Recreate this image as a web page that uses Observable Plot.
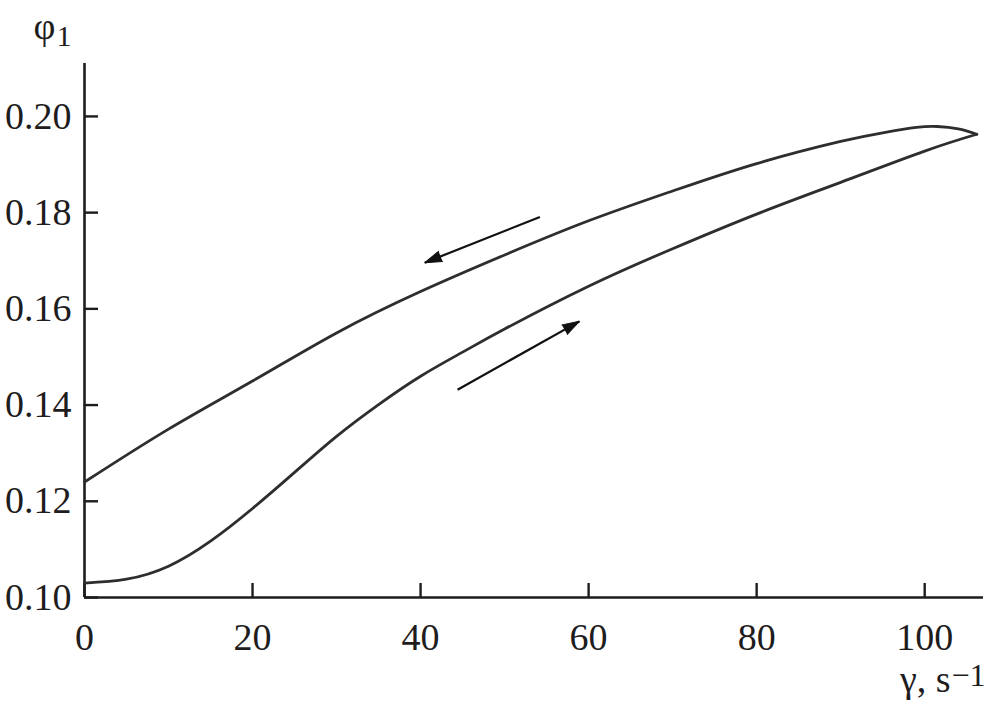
<!DOCTYPE html>
<html><head><meta charset="utf-8">
<script src="https://cdn.jsdelivr.net/npm/d3@7"></script>
<script src="https://cdn.jsdelivr.net/npm/@observablehq/plot@0.6"></script>
<style>html,body{margin:0;padding:0;background:#fff;}</style>
</head><body><div id="chart"></div>
<script>
// Forward branch (shear rate increasing) – lower curve
const fwdX = [0, 5, 10, 15, 20, 25, 30, 35, 40, 45, 50, 60, 70, 80, 90, 100, 106.2];
const fwdY = [0.1030, 0.1038, 0.1065, 0.1117, 0.1185, 0.1260, 0.1335, 0.1401, 0.1460, 0.1510, 0.1558, 0.1647, 0.1725, 0.1797, 0.1863, 0.1928, 0.1963];
// Backward branch (shear rate decreasing) – upper curve, listed by increasing γ
const backX = [0, 10, 20, 30, 40, 50, 60, 70, 80, 90, 95, 99, 101.5, 104, 106.2];
const backY = [0.1240, 0.1350, 0.1450, 0.1550, 0.1636, 0.1712, 0.1783, 0.1845, 0.1902, 0.1948, 0.1966, 0.1977, 0.1979, 0.1974, 0.1963];
// Direction arrows (tail -> tip)
const arrowX1 = [54.2, 44.4];
const arrowY1 = [0.1791, 0.1432];
const arrowX2 = [40.5, 58.9];
const arrowY2 = [0.1696, 0.1574];
// Ticks
const xTicks = [0, 20, 40, 60, 80, 100];
const yTicks = [0.10, 0.12, 0.14, 0.16, 0.18, 0.20];
const xDomain = [0, 107];
const yDomain = [0.10, 0.211];

const curve = [
  ...fwdX.map((x, i) => ({x, y: fwdY[i], s: "fwd"})),
  ...backX.map((x, i) => ({x, y: backY[i], s: "back"}))
];
const arrows = arrowX1.map((x1, i) => ({x1, y1: arrowY1[i], x2: arrowX2[i], y2: arrowY2[i]}));

const ink = "#1e1c1d";
const font = "'Liberation Serif', 'Times New Roman', Times, serif";

function build(rot) {
  return Plot.plot({
    width: 984, height: 713,
    marginTop: 63, marginRight: 1, marginBottom: 116, marginLeft: 84,
    style: {fontFamily: font, background: "white", color: ink, overflow: "visible"},
    x: {domain: xDomain, label: null},
    y: {domain: yDomain, label: null},
    marks: [
      Plot.axisX({ticks: xTicks, tickSize: -14, tickPadding: 40, tickFormat: d => String(d), fontSize: 38, fontFamily: font, strokeWidth: 2.4, label: null}),
      Plot.axisY({ticks: yTicks, tickSize: -14, tickPadding: 27, tickFormat: d3.format(".2f"), fontSize: 38, fontFamily: font, strokeWidth: 2.4, label: null}),
      Plot.ruleX([xDomain[0]], {stroke: ink, strokeWidth: 2.6}),
      Plot.ruleY([yDomain[0]], {stroke: ink, strokeWidth: 2.6}),
      Plot.line(curve, {x: "x", y: "y", z: "s", curve: "natural", stroke: "#2e2e2e", strokeWidth: 2.8}),
      Plot.link(arrows, {x1: "x1", y1: "y1", x2: "x2", y2: "y2", stroke: "#111", strokeWidth: 2.2}),
      Plot.vector(arrows, {x: "x2", y: "y2", anchor: "end", shape: "spike", length: 17, r: 5.5, rotate: (d, i) => rot[i], fill: "#111", stroke: "#111", strokeWidth: 1}),
      Plot.text(["φ"], {frameAnchor: "top-left", dx: -51, dy: -25, textAnchor: "start", lineAnchor: "bottom", fontSize: 38, fontFamily: font, fill: ink}),
      Plot.text(["1"], {frameAnchor: "top-left", dx: -28, dy: -18, textAnchor: "start", lineAnchor: "bottom", fontSize: 30, fontFamily: font, fill: ink}),
      Plot.text(["γ, s"], {frameAnchor: "bottom-right", dx: -33, dy: 94, textAnchor: "end", lineAnchor: "bottom", fontSize: 38, fontFamily: font, fill: ink}),
      Plot.text(["−1"], {frameAnchor: "bottom-right", dx: -32, dy: 88, textAnchor: "start", lineAnchor: "bottom", fontSize: 32, fontFamily: font, fill: ink})
    ]
  });
}

const probe = build([0, 0]);
const sx = probe.scale("x"), sy = probe.scale("y");
const rot = arrows.map(a => {
  const dx = sx.apply(a.x2) - sx.apply(a.x1);
  const dy = sy.apply(a.y2) - sy.apply(a.y1);
  return Math.atan2(dx, -dy) * 180 / Math.PI;
});
document.getElementById("chart").append(build(rot));
</script>
</body></html>
